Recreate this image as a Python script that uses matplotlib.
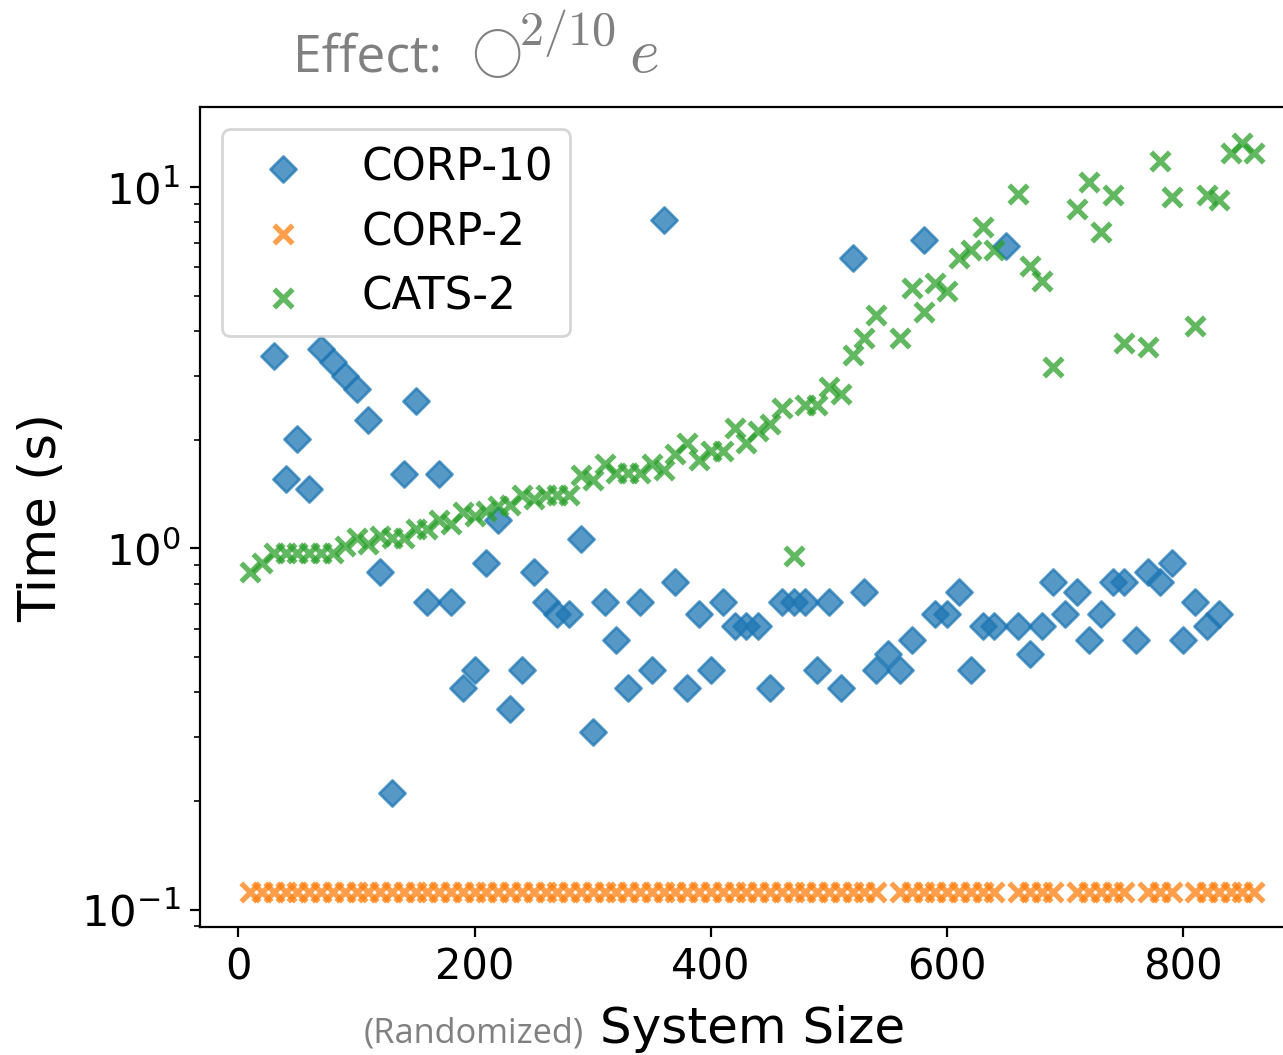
import numpy as np
import matplotlib
matplotlib.use("Agg")
import matplotlib.pyplot as plt

plt.rcParams['mathtext.fontset'] = 'cm'

# system sizes (step 10), some runs missing for the 2-core variants
corp10_x = list(range(30, 840, 10))
corp10_y = [3.41, 1.56, 2.01, 1.46, 3.56, 3.27, 3.0, 2.77, 2.26, 0.86,
            0.21, 1.61, 2.56, 0.71, 1.61, 0.71, 0.41, 0.46, 0.91, 1.2,
            0.36, 0.46, 0.86, 0.71, 0.66, 0.66, 1.06, 0.31, 0.71, 0.56,
            0.41, 0.71, 0.46, 8.1, 0.81, 0.41, 0.66, 0.46, 0.71, 0.61,
            0.61, 0.61, 0.41, 0.71, 0.71, 0.71, 0.46, 0.71, 0.41, 6.38,
            0.76, 0.46, 0.51, 0.46, 0.56, 7.13, 0.66, 0.66, 0.76, 0.46,
            0.61, 0.61, 6.89, 0.61, 0.51, 0.61, 0.81, 0.66, 0.76, 0.56,
            0.66, 0.81, 0.81, 0.56, 0.86, 0.81, 0.91, 0.56, 0.71, 0.61,
            0.66]

missing = [550, 650, 700, 760, 800]
two_x = [v for v in range(10, 870, 10) if v not in missing]

corp2_y = [0.112] * len(two_x)

cats2_y = [0.86, 0.913, 0.973, 0.973, 0.973, 0.973, 0.973, 0.973, 1.015, 1.07,
           1.03, 1.08, 1.07, 1.07, 1.13, 1.13, 1.2, 1.17, 1.26, 1.23,
           1.27, 1.31, 1.32, 1.41, 1.37, 1.41, 1.41, 1.41, 1.60, 1.55,
           1.71, 1.62, 1.62, 1.62, 1.71, 1.65, 1.82, 1.96, 1.76, 1.86,
           1.86, 2.16, 1.96, 2.11, 2.21, 2.45, 0.956, 2.5, 2.5, 2.79,
           2.67, 3.42, 3.83, 4.43, 3.82, 5.24, 4.52, 5.44, 5.17, 6.38,
           6.69, 7.76, 6.69, 9.56, 6.05, 5.48, 3.17, 8.69, 10.3, 7.49,
           9.52, 3.71, 3.6, 11.8, 9.4, 4.13, 9.52, 9.2, 12.4, 13.2,
           12.4]

W, H = 1283, 1055
fig = plt.figure(figsize=(W / 200, H / 200), dpi=200)
# axes runs past the right edge of the picture, as in the cropped original
ax = fig.add_axes([200 / W, (H - 927) / H, 1104.5 / W, 820 / H])

ax.scatter(corp10_x, corp10_y, marker='D', s=44, alpha=0.75, label='CORP-10')
ax.scatter(two_x, corp2_y, marker='x', s=44, linewidths=1.9, alpha=0.75, label='CORP-2')
ax.scatter(two_x, cats2_y, marker='x', s=44, linewidths=1.9, alpha=0.75, label='CATS-2')

ax.set_yscale('log')
ax.set_xlim(-32.5, 902.5)
ax.set_ylim(0.0897, 16.65)
ax.set_xticks([0, 200, 400, 600, 800])
ax.tick_params(axis='x', labelsize=15)
ax.tick_params(axis='y', labelsize=15.6)

ax.set_ylabel('Time (s)', fontsize=18.5, labelpad=5)
ax.set_xlabel('System Size', fontsize=18, labelpad=6)
ax.legend(loc='upper left', fontsize=15.7)

grey = '#808080'
fig.text(584 / W, 1 - 1043 / H, '(Randomized)', color=grey,
         fontsize=12.4, family='Open Sans', ha='right', va='baseline')
fig.text(293 / W, 1 - 72 / H, 'Effect:', color=grey,
         fontsize=18.6, family='Open Sans', ha='left', va='baseline')
fig.text(471 / W, 1 - 67 / H, r'$\bigcirc$', color=grey,
         fontsize=18.5, ha='left', va='baseline')
fig.text(519 / W, 1 - 45 / H, r'$2/10$', color=grey,
         fontsize=17.4, ha='left', va='baseline')
fig.text(629 / W, 1 - 72 / H, r'$e$', color=grey,
         fontsize=23, ha='left', va='baseline')

fig.savefig('out.png', dpi=200)
